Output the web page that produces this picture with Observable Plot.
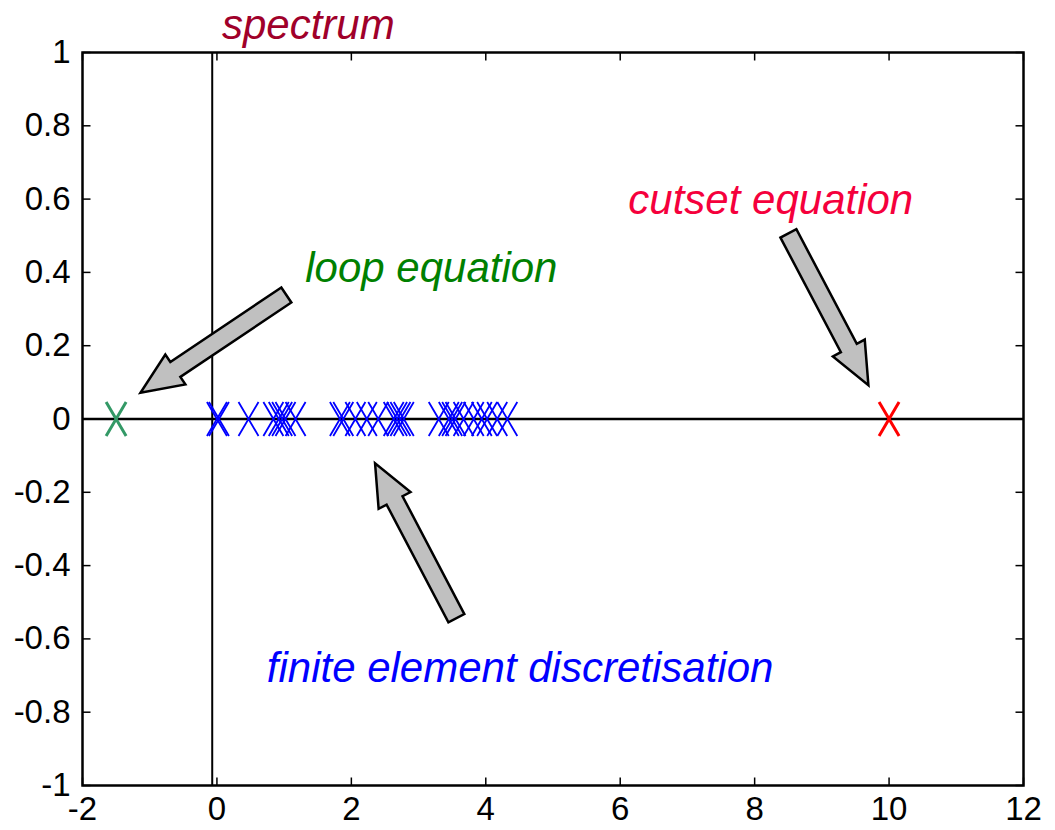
<!DOCTYPE html>
<html><head><meta charset="utf-8">
<script src="https://cdn.jsdelivr.net/npm/d3@7"></script>
<script src="https://cdn.jsdelivr.net/npm/@observablehq/plot@0.6"></script>
<style>html,body{margin:0;padding:0;background:#fff}</style>
</head><body><div id="chart"></div>
<script>
// eigenvalues (real parts; all imaginary parts are 0)
const feEigenvalues = [0, 0.03, 0.47, 0.84, 0.92, 0.97, 1.02, 1.17, 1.83, 1.88, 2.06, 2.23, 2.40, 2.63, 2.68, 2.73, 2.78, 3.30, 3.45, 3.50, 3.55, 3.67, 3.82, 3.94, 4.02, 4.17, 4.32];
const loopEigenvalues = [-1.5];
const cutsetEigenvalues = [10];
const imagAxisX = [-0.07];
const realAxisY = [0];
const xTicks = [-2, 0, 2, 4, 6, 8, 10, 12];
const yTicks = [-1, -0.8, -0.6, -0.4, -0.2, 0, 0.2, 0.4, 0.6, 0.8, 1];

const labelText = ["spectrum", "loop equation", "cutset equation", "finite element discretisation"];
const labelX = [1.36, 3.19, 8.24, 4.51];
const labelY = [1.074, 0.411, 0.596, -0.681];
const labelColor = ["#a0002a", "#008000", "#f5003c", "#0000ff"];

const arrowTailX = [1.04, 3.57, 8.51];
const arrowTailY = [0.337, -0.545, 0.505];
const arrowHeadX = [-1.13, 2.36, 9.70];
const arrowHeadY = [0.07, -0.122, 0.091];

const labels = labelText.map((t, i) => ({text: t, x: labelX[i], y: labelY[i], color: labelColor[i]}));
const arrows = arrowTailX.map((x, i) => ({x1: x, y1: arrowTailY[i], x2: arrowHeadX[i], y2: arrowHeadY[i]}));

const FONT = "'Liberation Sans', Arial, Helvetica, sans-serif";

// tall "x" marker
const tallX = {draw(ctx) { const w = 10, h = 17; ctx.moveTo(-w, -h); ctx.lineTo(w, h); ctx.moveTo(w, -h); ctx.lineTo(-w, h); }};
const tickUp = {draw(c) { c.moveTo(0, 0); c.lineTo(0, -8); }};
const tickDown = {draw(c) { c.moveTo(0, 0); c.lineTo(0, 8); }};
const tickRight = {draw(c) { c.moveTo(0, 0); c.lineTo(8, 0); }};
const tickLeft = {draw(c) { c.moveTo(0, 0); c.lineTo(-8, 0); }};

function arrowMark(index, scales, values, dimensions, context) {
  const g = d3.create("svg:g");
  const w = 9, hw = 18, hl = 42;
  for (const a of arrows) {
    const tx = scales.x(a.x1), ty = scales.y(a.y1), hx = scales.x(a.x2), hy = scales.y(a.y2);
    const dx = hx - tx, dy = hy - ty, L = Math.hypot(dx, dy);
    const ux = dx / L, uy = dy / L, nx = -uy, ny = ux;
    const bx = hx - ux * hl, by = hy - uy * hl;
    const pts = [
      [tx + nx * w, ty + ny * w], [bx + nx * w, by + ny * w], [bx + nx * hw, by + ny * hw],
      [hx, hy],
      [bx - nx * hw, by - ny * hw], [bx - nx * w, by - ny * w], [tx - nx * w, ty - ny * w]
    ];
    g.append("polygon").attr("points", pts.map(p => p.join(",")).join(" "))
      .attr("fill", "#c0c0c0").attr("stroke", "#000").attr("stroke-width", 2.5).attr("stroke-linejoin", "miter");
  }
  return g.node();
}

const chart = Plot.plot({
  width: 1055, height: 830,
  marginLeft: 82, marginRight: 32, marginTop: 52, marginBottom: 45,
  style: {fontFamily: FONT, fontSize: "33px", background: "#fff", overflow: "visible"},
  x: {domain: [-2, 12]},
  y: {domain: [-1, 1]},
  color: {type: "identity"},
  marks: [
    Plot.axisX({ticks: xTicks, anchor: "bottom", tickSize: 0, tickPadding: 11, fontSize: 33, tickFormat: d => String(d), label: null, color: "#000"}),
    Plot.axisY({ticks: yTicks, anchor: "left", tickSize: 0, tickPadding: 12, fontSize: 33, tickFormat: d => String(d), label: null, color: "#000"}),
    Plot.dot(xTicks, {x: d => d, y: -1, symbol: tickUp, stroke: "#000", strokeWidth: 1.5, fill: "none"}),
    Plot.dot(xTicks, {x: d => d, y: 1, symbol: tickDown, stroke: "#000", strokeWidth: 1.5, fill: "none"}),
    Plot.dot(yTicks, {x: -2, y: d => d, symbol: tickRight, stroke: "#000", strokeWidth: 1.5, fill: "none"}),
    Plot.dot(yTicks, {x: 12, y: d => d, symbol: tickLeft, stroke: "#000", strokeWidth: 1.5, fill: "none"}),
    Plot.ruleY(realAxisY, {stroke: "#000", strokeWidth: 2.5}),
    Plot.ruleX(imagAxisX, {stroke: "#000", strokeWidth: 2}),
    Plot.frame({stroke: "#000", strokeWidth: 2.5}),
    Plot.dot(feEigenvalues, {x: d => d, y: 0, symbol: tallX, stroke: "#0000ff", strokeWidth: 1.8, fill: "none"}),
    Plot.dot(loopEigenvalues, {x: d => d, y: 0, symbol: tallX, stroke: "#339966", strokeWidth: 3, fill: "none"}),
    Plot.dot(cutsetEigenvalues, {x: d => d, y: 0, symbol: tallX, stroke: "#ff0000", strokeWidth: 3, fill: "none"}),
    arrowMark,
    Plot.text(labels, {x: "x", y: "y", text: "text", fill: d => d.color, fontSize: 42, fontStyle: "italic", fontFamily: FONT, textAnchor: "middle", lineAnchor: "middle"})
  ]
});
document.getElementById("chart").appendChild(chart);
</script>
</body></html>
